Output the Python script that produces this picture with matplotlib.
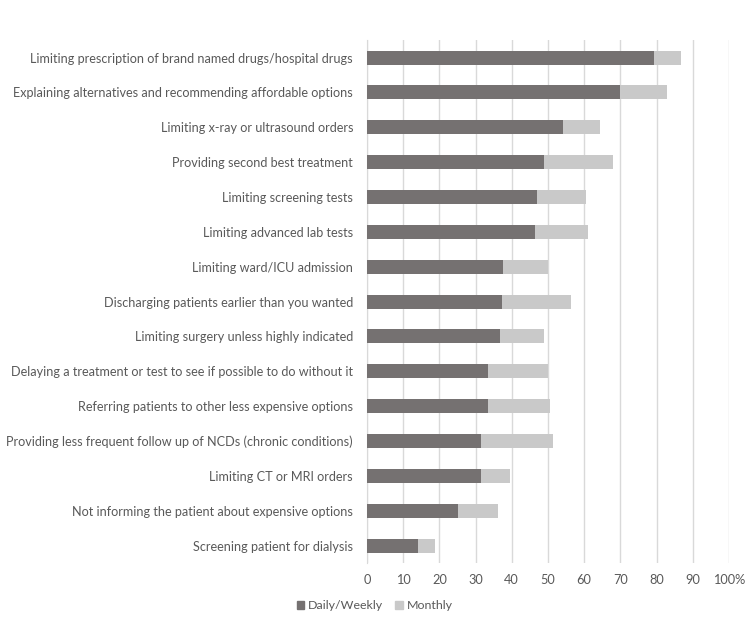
import matplotlib
matplotlib.use("Agg")
from matplotlib import pyplot as plt
from matplotlib.patches import Patch

# Données (de haut en bas)
categories = [
    "Limiting prescription of brand named drugs/hospital drugs",
    "Explaining alternatives and recommending affordable options",
    "Limiting x-ray or ultrasound orders",
    "Providing second best treatment",
    "Limiting screening tests",
    "Limiting advanced lab tests",
    "Limiting ward/ICU admission",
    "Discharging patients earlier than you wanted",
    "Limiting surgery unless highly indicated",
    "Delaying a treatment or test to see if possible to do without it",
    "Referring patients to other less expensive options",
    "Providing less frequent follow up of NCDs (chronic conditions)",
    "Limiting CT or MRI orders",
    "Not informing the patient about expensive options",
    "Screening patient for dialysis",
]
daily_weekly = [79.4, 69.9, 54.3, 49.0, 47.1, 46.3, 37.7, 37.3, 36.8, 33.4, 33.4, 31.6, 31.6, 25.1, 14.1]
monthly = [7.5, 12.9, 10.2, 19.0, 13.3, 14.8, 12.4, 19.0, 12.2, 16.7, 17.2, 19.7, 7.9, 11.0, 4.6]
ticks = [0, 10, 20, 30, 40, 50, 60, 70, 80, 90, 100]
tick_labels = ["0", "10", "20", "30", "40", "50", "60", "70", "80", "90", "100%"]

dark = "#757171"
light = "#c9c9c9"
txt = "#595959"

plt.rcParams["font.family"] = ["Lato", "DejaVu Sans"]

fig = plt.figure(figsize=(7.54, 6.27), dpi=100)
ax = fig.add_axes([0.4867, 0.102, 0.48, 0.834])

y = list(range(len(categories)))
ax.barh(y, daily_weekly, height=0.4, color=dark, zorder=3)
ax.barh(y, monthly, left=daily_weekly, height=0.4, color=light, zorder=3)

ax.set_ylim(len(categories) - 0.5, -0.5)
ax.set_xlim(0, 100)
ax.set_yticks(y)
ax.set_yticklabels(categories, fontsize=9.1, color=txt)
ax.set_xticks(ticks)
ax.set_xticklabels(tick_labels, fontsize=9.2, color=txt)
ax.tick_params(axis="both", length=0, pad=8)
ax.tick_params(axis="y", pad=10)

ax.grid(axis="x", color="#d9d9d9", linewidth=1, zorder=0)
for s in ["top", "right", "bottom"]:
    ax.spines[s].set_visible(False)
ax.spines["left"].set_color("#d9d9d9")

fig.legend(
    handles=[Patch(color=dark, label="Daily/Weekly"), Patch(color=light, label="Monthly")],
    loc="center", bbox_to_anchor=(0.497, 0.034), ncol=2, frameon=False,
    fontsize=8.9, handlelength=0.6, handleheight=0.6, columnspacing=1.0, handletextpad=0.3,
    labelcolor=txt,
)

fig.savefig("out.png", dpi=100)
